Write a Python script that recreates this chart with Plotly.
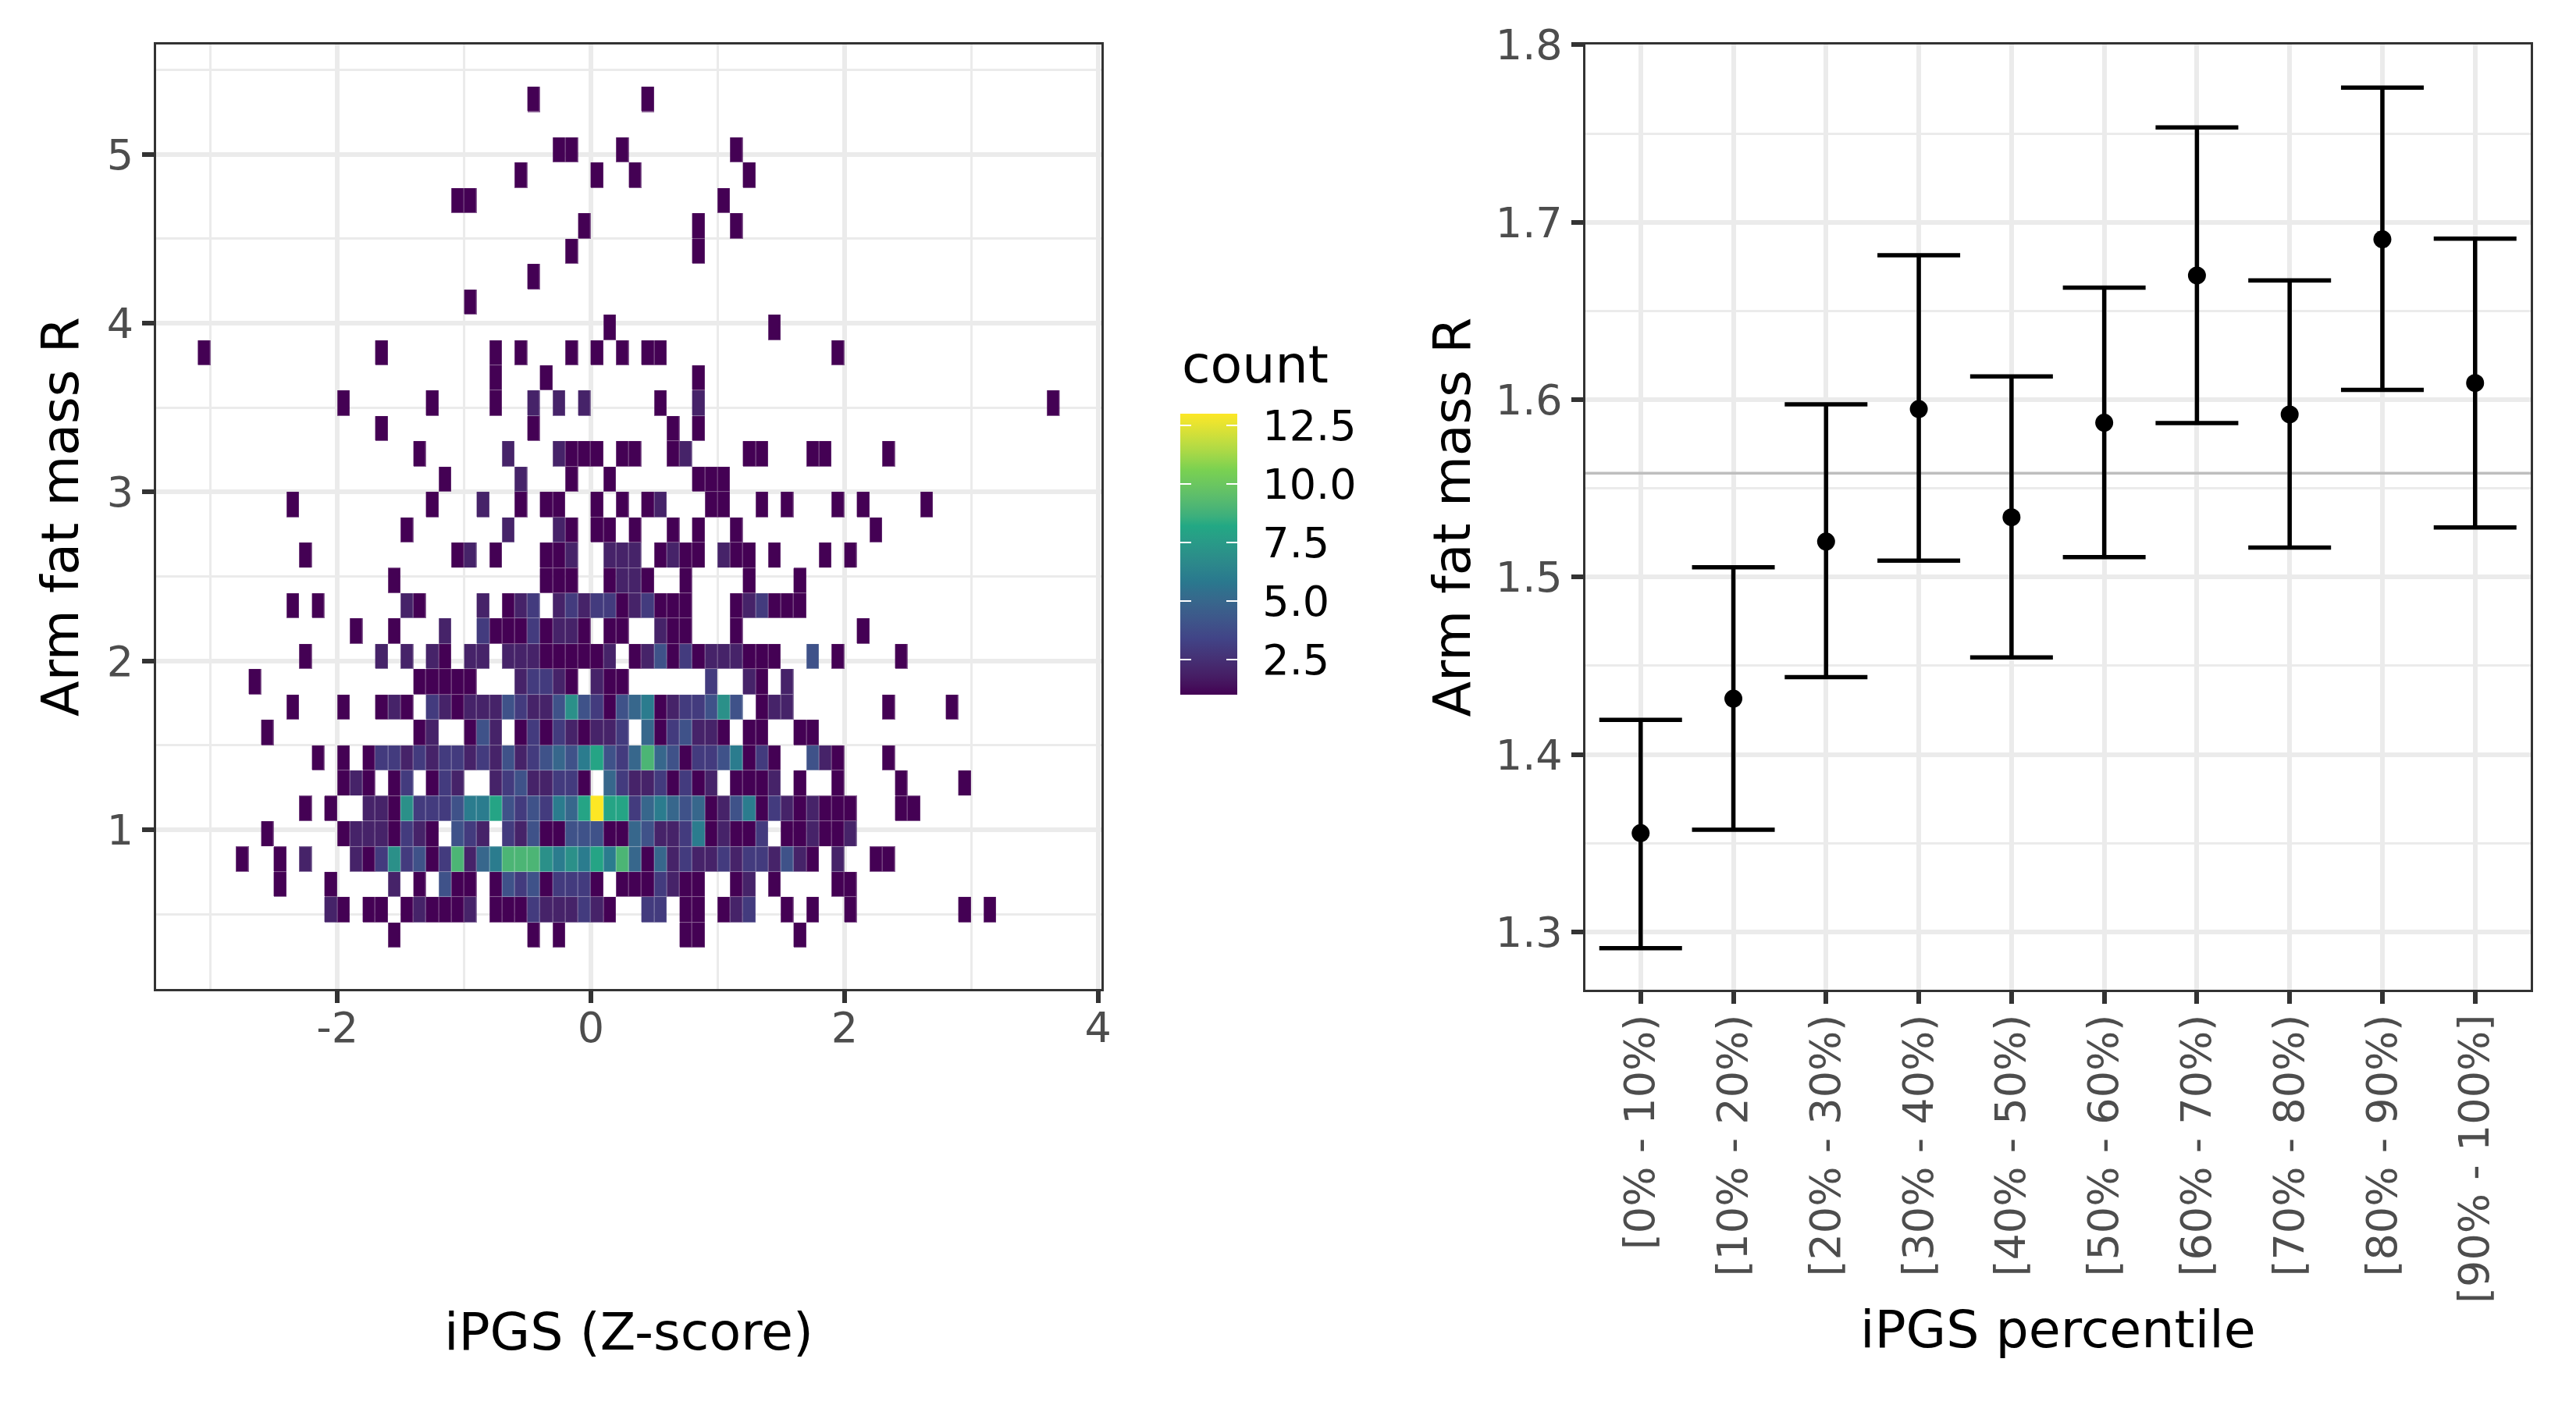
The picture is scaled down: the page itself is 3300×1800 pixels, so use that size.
import plotly.graph_objects as go

# ---------- left panel data: count per bin, {column: count}, x bin = column*0.1, one dict per y bin
bin_width_x = 0.1
bin_height_y = 0.15
bin_bottom_y = 0.30
row_00 = {-16:1,-5:1,-3:1,7:1,8:1,16:1}
row_01 = {-21:2,-20:1,-18:1,-17:1,-15:1,-14:2,-13:1,-12:1,-11:1,-10:2,-8:1,-7:1,-6:1,-5:3,-4:2,-3:2,-2:2,-1:3,0:2,1:1,4:3,5:3,7:1,8:1,10:1,11:2,12:3,15:1,17:1,20:1,29:1,31:1}
row_02 = {-25:1,-21:1,-16:2,-14:1,-12:4,-11:1,-10:1,-8:1,-7:4,-6:3,-5:4,-4:1,-3:3,-2:3,-1:3,0:1,2:1,3:1,4:1,5:3,6:2,7:1,8:1,11:1,12:2,14:1,19:1,20:1}
row_03 = {-28:1,-25:1,-23:2,-19:2,-18:1,-17:3,-16:7,-15:3,-14:4,-13:1,-12:3,-11:9,-10:2,-9:5,-8:6,-7:9,-6:9,-5:9,-4:7,-3:6,-2:7,-1:6,0:8,1:6,2:9,3:5,4:1,5:5,6:2,7:3,8:2,9:2,10:3,11:2,12:3,13:3,14:2,15:4,16:2,17:1,19:2,22:1,23:1}
row_04 = {-26:1,-20:1,-19:2,-18:2,-17:2,-16:1,-15:3,-14:2,-13:1,-11:4,-10:3,-9:2,-7:3,-6:2,-5:4,-4:1,-3:1,-2:4,-1:4,0:4,1:1,2:1,3:5,4:4,5:2,6:2,7:3,8:6,9:1,10:2,11:1,12:1,13:3,15:1,16:1,17:2,18:1,19:1,20:2}
row_05 = {-23:1,-21:1,-18:2,-17:2,-16:1,-15:7,-14:3,-13:3,-12:3,-11:4,-10:6,-9:6,-8:8,-7:4,-6:3,-5:4,-4:3,-3:6,-2:5,-1:8,0:13,1:8,2:8,3:3,4:5,5:6,6:5,7:4,8:5,9:1,10:2,11:4,12:6,13:1,14:3,15:2,16:1,17:2,18:1,19:1,20:1,24:1,25:1}
row_06 = {-20:1,-19:2,-18:1,-16:1,-15:3,-13:1,-12:3,-11:2,-8:2,-7:3,-6:4,-5:2,-4:2,-3:3,-2:3,-1:1,1:5,2:3,3:2,4:2,5:3,6:1,7:3,8:1,9:2,11:1,12:1,13:1,14:2,16:1,19:1,24:1,29:1}
row_07 = {-22:1,-20:1,-18:1,-17:3,-16:3,-15:2,-14:3,-13:2,-12:3,-11:3,-10:2,-9:3,-8:2,-7:4,-6:2,-5:3,-4:4,-3:5,-2:4,-1:6,0:8,1:4,2:3,3:5,4:9,5:5,6:4,7:1,8:3,9:3,10:4,11:6,12:1,13:3,14:1,17:4,18:2,19:1,23:1}
row_08 = {-26:1,-14:1,-13:2,-10:1,-9:4,-8:2,-6:1,-5:3,-4:1,-3:3,-2:2,-1:1,0:2,1:2,2:3,4:5,5:1,6:3,7:4,8:2,9:2,10:1,12:1,13:1,16:1,17:1}
row_09 = {-24:1,-20:1,-17:1,-16:2,-15:1,-13:3,-12:2,-11:1,-10:2,-9:2,-8:2,-7:4,-6:3,-5:2,-4:2,-3:4,-2:7,-1:4,0:3,1:1,2:4,3:5,4:6,5:1,6:2,7:3,8:3,9:4,10:7,11:4,13:1,14:2,15:2,23:1,28:1}
row_10 = {-27:1,-14:1,-13:1,-12:1,-11:1,-10:1,-6:2,-5:3,-4:3,-3:2,-2:1,0:2,1:1,2:1,9:3,12:2,13:1,15:2}
row_11 = {-23:1,-17:2,-15:2,-13:2,-12:1,-10:2,-9:2,-7:2,-6:2,-5:2,-4:1,-3:1,-2:1,-1:1,0:1,1:2,3:1,4:2,5:4,6:1,7:3,8:1,9:2,10:2,11:2,12:1,13:1,14:1,17:4,19:1,24:1}
row_12 = {-19:1,-16:1,-12:2,-9:3,-8:1,-7:1,-6:1,-5:3,-4:1,-3:2,-2:2,-1:1,1:1,2:1,5:2,6:1,7:1,11:1,21:1}
row_13 = {-24:1,-22:1,-15:2,-14:1,-9:2,-7:1,-6:2,-5:3,-3:2,-2:3,-1:2,0:3,1:3,2:1,3:2,4:3,5:1,6:1,7:1,11:1,12:2,13:3,14:1,15:1,16:1}
row_14 = {-16:1,-4:1,-3:1,-2:1,1:1,2:2,3:2,4:1,7:1,12:1,16:1}
row_15 = {-23:1,-11:1,-10:2,-8:1,-4:1,-3:1,-2:2,1:2,2:2,3:2,5:1,6:2,7:1,8:1,10:2,11:1,12:1,14:1,18:1,20:1}
row_16 = {-15:1,-7:2,-3:2,-2:1,0:1,1:1,3:1,6:1,8:1,11:1,22:1}
row_17 = {-24:1,-13:1,-9:2,-6:1,-4:1,-3:1,0:1,2:1,4:1,5:2,9:1,10:1,13:1,15:1,19:1,21:1,26:1}
row_18 = {-12:1,-6:2,-2:1,1:1,8:1,9:1,10:1}
row_19 = {-14:1,-7:2,-3:2,-2:1,-1:1,0:1,2:1,3:1,6:1,7:2,12:1,13:1,17:1,18:1,23:1}
row_20 = {-17:1,-5:1,6:1,8:1}
row_21 = {-20:1,-13:1,-8:1,-5:2,-3:2,-1:2,5:1,8:2,36:1}
row_22 = {-8:1,-4:1,8:1}
row_23 = {-31:1,-17:1,-8:1,-6:1,-2:1,0:1,2:1,4:1,5:1,19:1}
row_24 = {1:1,14:1}
row_25 = {-10:1}
row_26 = {-5:1}
row_27 = {-2:1,8:1}
row_28 = {-1:1,8:1,11:1}
row_29 = {-11:1,-10:1,10:1}
row_30 = {-6:1,0:1,3:1,12:1}
row_31 = {-3:1,-2:1,2:1,11:1}
row_32 = {}
row_33 = {-5:1,4:1}
count_rows = [row_00,row_01,row_02,row_03,row_04,row_05,row_06,row_07,row_08,row_09,row_10,row_11,
              row_12,row_13,row_14,row_15,row_16,row_17,row_18,row_19,row_20,row_21,row_22,row_23,
              row_24,row_25,row_26,row_27,row_28,row_29,row_30,row_31,row_32,row_33]
first_col = -31
last_col = 36
x_ticks = [-2,0,2,4]
x_tick_labels = ["-2","0","2","4"]

# ---------- right panel data
percentile_labels = ["[0% - 10%)","[10% - 20%)","[20% - 30%)","[30% - 40%)","[40% - 50%)",
                     "[50% - 60%)","[60% - 70%)","[70% - 80%)","[80% - 90%)","[90% - 100%]"]
means  = [1.3557,1.4315,1.520,1.5947,1.5337,1.587,1.670,1.5917,1.6904,1.6094]
uppers = [1.4195,1.5055,1.5974,1.6814,1.6131,1.6631,1.7535,1.6672,1.7759,1.6908]
lowers = [1.2908,1.3576,1.4436,1.5093,1.4547,1.5113,1.5868,1.5166,1.6055,1.528]
overall_mean = 1.5586
right_x_range = [-0.6,9.6]

# ---------- viridis(6) interpolated in Lab, as the reference's colour scale is
viridis6 = ["#440154","#414487","#2A788E","#22A884","#7AD151","#FDE725"]
def hex_to_lab(h):
    rgb = [int(h[i:i+2],16)/255 for i in (1,3,5)]
    r,g,b = [c/12.92 if c<=0.04045 else ((c+0.055)/1.055)**2.4 for c in rgb]
    x = (0.4124564*r+0.3575761*g+0.1804375*b)/0.95047
    y = (0.2126729*r+0.7151522*g+0.0721750*b)
    z = (0.0193339*r+0.1191920*g+0.9503041*b)/1.08883
    f = lambda t: t**(1/3) if t>0.008856 else 7.787*t+16/116
    return (116*f(y)-16, 500*(f(x)-f(y)), 200*(f(y)-f(z)))
def lab_to_rgb(L,a,b):
    fy=(L+16)/116; fx=fy+a/500; fz=fy-b/200
    g=lambda t: t**3 if t**3>0.008856 else (t-16/116)/7.787
    x,y,z=g(fx)*0.95047,g(fy),g(fz)*1.08883
    lin=[3.2404542*x-1.5371385*y-0.4985314*z,-0.9692660*x+1.8760108*y+0.0415560*z,0.0556434*x-0.2040259*y+1.0572252*z]
    out=[]
    for c in lin:
        c=max(0,min(1,c))
        c=12.92*c if c<=0.0031308 else 1.055*c**(1/2.4)-0.055
        out.append(round(c*255))
    return f"rgb({out[0]},{out[1]},{out[2]})"
colorscale=[]
labs=[hex_to_lab(h) for h in viridis6]
steps=6
for i in range(5):
    for s in range(steps):
        t=s/steps
        colorscale.append([(i+t)/5, lab_to_rgb(*[labs[i][k]+(labs[i+1][k]-labs[i][k])*t for k in range(3)])])
colorscale.append([1.0, lab_to_rgb(*labs[5])])

z = [[row.get(c) for c in range(first_col,last_col+1)] for row in count_rows]

W,H = 3300,1800
TICK=54; TITLE=66.6
GRID="#ebebeb"; LINE="#333333"; TXT="#4d4d4d"
FONT="DejaVu Sans"
CLEAR="rgba(0,0,0,0)"

fig = go.Figure()
heat = dict(z=z, x0=(first_col+0.5)*bin_width_x, dx=bin_width_x,
            y0=bin_bottom_y+bin_height_y/2, dy=bin_height_y,
            xaxis="x", yaxis="y", zmin=1, zmax=13, colorscale=colorscale, hoverongaps=False)
# a paler copy underneath, so the hairline seams between the bins read as they do in the reference
fig.add_trace(go.Heatmap(opacity=0.6, showscale=False, hoverinfo="skip", **heat))
fig.add_trace(go.Heatmap(
    xgap=1, ygap=1,
    colorbar=dict(
        x=1512/W, xanchor="left", xpad=0, ypad=0,
        y=1-890/H, yanchor="bottom", len=360/H, lenmode="fraction",
        thickness=73, thicknessmode="pixels", outlinewidth=0, borderwidth=0,
        tick0=2.5, dtick=2.5, tickformat=".1f", ticks="outside", ticklen=22,
        tickcolor=CLEAR, tickwidth=1,
        tickfont=dict(family=FONT,size=TICK,color="black"),
    ), **heat))
# white colour-bar ticks on both inner edges: two clear bars laid over the real one
for cb in (dict(x=1512/W,thickness=73,ticks="inside"),dict(x=1511/W,thickness=1,ticks="outside")):
    fig.add_trace(go.Heatmap(
        z=[[1]], x=[1000], y=[1000], xaxis="x", yaxis="y", zmin=1, zmax=13,
        colorscale=[[0,CLEAR],[1,CLEAR]], hoverinfo="skip",
        colorbar=dict(xanchor="left", xpad=0, ypad=0, y=1-890/H, yanchor="bottom",
                      len=360/H, lenmode="fraction", thicknessmode="pixels",
                      outlinewidth=0, borderwidth=0, tick0=2.5, dtick=2.5,
                      ticklen=14, tickcolor="white", tickwidth=2, showticklabels=False, **cb)))

fig.add_trace(go.Scatter(
    x=right_x_range, y=[overall_mean,overall_mean], mode="lines", xaxis="x2", yaxis="y2",
    line=dict(color="#bebebe",width=3.5), showlegend=False, hoverinfo="skip"))
fig.add_trace(go.Scatter(
    x=list(range(10)), y=means, mode="markers", xaxis="x2", yaxis="y2",
    marker=dict(color="black",size=23),
    error_y=dict(type="data",symmetric=False,
                 array=[u-m for u,m in zip(uppers,means)],
                 arrayminus=[m-l for m,l in zip(means,lowers)],
                 color="black",thickness=5.5,width=53),
    showlegend=False))

def axis(**kw):
    base=dict(showline=True,mirror=True,linecolor=LINE,linewidth=3,ticks="outside",automargin=False,
              ticklen=15,tickwidth=5.5,tickcolor=LINE,showgrid=True,gridcolor=GRID,gridwidth=6,
              zeroline=False,tickfont=dict(family=FONT,size=TICK,color=TXT))
    base.update(kw); return base
def ttl(text,st):
    return dict(text=text,font=dict(family=FONT,size=TITLE,color="black"),standoff=st)
def minor(tick0,dtick):
    return dict(tick0=tick0,dtick=dtick,showgrid=True,gridcolor=GRID,gridwidth=3,ticks="")

fig.update_layout(
    width=W,height=H,margin=dict(l=0,r=0,t=0,b=0),autosize=False,
    paper_bgcolor="white",plot_bgcolor="white",showlegend=False,
    font=dict(family=FONT),
    annotations=[dict(text="count",xref="paper",yref="paper",x=1512/W,y=1-467/H,xanchor="left",yanchor="middle",
                      showarrow=False,font=dict(family=FONT,size=TITLE,color="black"))],
    xaxis=axis(domain=[200/W,1411/W],range=[-3.43,4.027],tickmode="array",tickvals=x_ticks,
               ticktext=x_tick_labels,ticklabelstandoff=-15,
               minor=minor(-3,2),title=ttl("iPGS (Z-score)",336),anchor="y"),
    yaxis=axis(domain=[1-1267/H,1-57/H],range=[0.057,5.65],tick0=1,dtick=1,
               minor=minor(0.5,1),title=ttl("Arm fat mass R",15),anchor="x"),
    xaxis2=axis(domain=[2030.5/W,3242/W],range=right_x_range,tickmode="array",
                tickvals=list(range(10)),ticktext=percentile_labels,tickangle=-90,ticklabelstandoff=-8,
                title=ttl("iPGS percentile",11),anchor="y2"),
    yaxis2=axis(domain=[1-1268/H,1-57/H],range=[1.2674,1.8002],tick0=1.3,dtick=0.1,tickformat=".1f",
                minor=minor(1.35,0.1),title=ttl("Arm fat mass R",11),anchor="x2"),
)
fig.write_html("out.html", config={"displayModeBar":False},
               post_script="document.body.style.margin='0';")
